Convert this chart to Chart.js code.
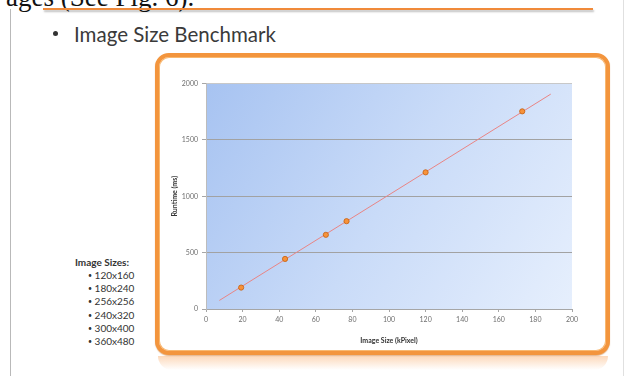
<!DOCTYPE html>
<html>
<head>
<meta charset="utf-8">
<script src="https://cdn.jsdelivr.net/npm/chart.js@4/dist/chart.umd.min.js"></script>
<style>
  html, body { margin: 0; padding: 0; background: #fff; }
  #wrap { position: relative; width: 628px; height: 376px; overflow: hidden; background: #fff; font-family: Lato, "Open Sans", sans-serif; }
  .abs { position: absolute; }
  #topText { left: 6px; top: -18px; font-family: "Liberation Serif", "DejaVu Serif", serif; font-size: 27px; color: #111; white-space: nowrap; }
  #topLine { left: 43px; top: 8px; width: 550px; height: 2px; background: #f08a3a; box-shadow: 1px 2px 2px rgba(0,0,0,0.25); }
  #leftRule { left: 10px; top: 9px; width: 1px; height: 370px; background: #b9b9b9; }
  #rightRule { left: 623px; top: 0px; width: 1px; height: 376px; background: #e0e0e0; }
  #heading { left: 74px; top: 22px; font-size: 20.5px; color: #3a3a3a; white-space: nowrap; }
  #bullet { left: 53px; top: 31px; width: 5px; height: 5px; border-radius: 50%; background: #333; }
  #frame { left: 155px; top: 53px; width: 447px; height: 294px; border: 4px solid #f3953d; border-radius: 14px; background: #fff;
           box-shadow: inset 0 0 0 1px #f8b870, 0 1px 1px rgba(200,110,30,0.5); }
  #reflect { left: 158px; top: 356px; width: 450px; height: 14px; border-radius: 0 0 14px 14px;
             background: linear-gradient(to bottom, rgba(250,185,130,0.55), rgba(255,230,210,0.0)); }
  #sizes { left: 60px; top: 255px; width: 100px; font-size: 10px; color: #333; }
  #sizes .hd { font-weight: bold; text-align: center; margin-left: -8px; width: 100px; line-height: 14px; }
  #sizes .it { margin-left: 28px; line-height: 13.2px; }
  #sizes .b { font-size: 7px; vertical-align: 1px; }
  canvas { position: absolute; left: 0; top: 0; }
</style>
</head>
<body>
<div id="wrap">
  <div class="abs" id="topText">ages (See Fig. 6).</div>
  <div class="abs" id="topLine"></div>
  <div class="abs" id="leftRule"></div>
  <div class="abs" id="rightRule"></div>
  <div class="abs" id="bullet"></div>
  <div class="abs" id="heading">Image Size Benchmark</div>
  <div class="abs" id="reflect"></div>
  <div class="abs" id="frame"></div>
  <div class="abs" id="sizes"></div>
  <canvas id="c" width="628" height="376"></canvas>
</div>
<script>
// ---- data ----
const sizeLabels = ['120x160', '180x240', '256x256', '240x320', '300x400', '360x480'];
const imageKPixel = [19.2, 43.2, 65.5, 76.8, 120, 172.8];
const runtimeMs = [190, 444, 658, 779, 1212, 1753];
const trendKPixel = [7.3, 188.4];
const trendMs = [76, 1906];
const xTicks = [0, 20, 40, 60, 80, 100, 120, 140, 160, 180, 200];
const yTicks = [0, 500, 1000, 1500, 2000];

// size list
const sizesEl = document.getElementById('sizes');
sizesEl.innerHTML = '<div class="hd">Image Sizes:</div>' + sizeLabels.map(s => '<div class="it"><span class="b">\u2022</span> ' + s + '</div>').join('');

const plotBg = {
  id: 'plotBg',
  beforeDraw(chart) {
    const {ctx, chartArea: a} = chart;
    const g = ctx.createLinearGradient(a.left, a.top, a.right, a.bottom);
    g.addColorStop(0, '#a7c3f1');
    g.addColorStop(0.5, '#c9dbf8');
    g.addColorStop(1, '#e6effd');
    ctx.save();
    ctx.fillStyle = g;
    ctx.fillRect(a.left, a.top, a.right - a.left, a.bottom - a.top);
    ctx.restore();
  }
};

const tickFont = { family: 'Lato, "Open Sans", sans-serif', size: 7 };
const titleFont = { family: 'Lato, "Open Sans", sans-serif', size: 7, weight: 'bold' };

new Chart(document.getElementById('c'), {
  type: 'scatter',
  data: {
    datasets: [
      {
        label: 'Trend',
        data: trendKPixel.map((x, i) => ({ x, y: trendMs[i] })),
        showLine: true,
        borderColor: '#e98585',
        borderWidth: 1,
        pointRadius: 0,
        order: 2
      },
      {
        label: 'Runtime',
        data: imageKPixel.map((x, i) => ({ x, y: runtimeMs[i] })),
        pointRadius: 2.6,
        pointStyle: 'circle',
        backgroundColor: '#f7923a',
        borderColor: '#c4600e',
        borderWidth: 0.8,
        order: 1
      }
    ]
  },
  options: {
    responsive: false,
    animation: false,
    devicePixelRatio: 1,
    layout: { padding: { left: 160, right: 56, top: 83.5, bottom: 31 } },
    plugins: { legend: { display: false }, tooltip: { enabled: false } },
    scales: {
      x: {
        type: 'linear', min: 0, max: 200,
        afterBuildTicks(s) { s.ticks = xTicks.map(v => ({ value: v })); },
        afterFit(s) { s.height = 36; },
        ticks: { font: tickFont, color: '#6e6e6e', padding: 4, maxRotation: 0, callback: v => String(v) },
        grid: { drawOnChartArea: false, drawTicks: true, tickLength: 3, tickColor: '#a6a6a6' },
        border: { color: '#a6a6a6' },
        title: { display: true, text: 'Image Size (kPixel)', font: titleFont, color: '#333', padding: { top: 4, bottom: 0 } }
      },
      y: {
        min: 0, max: 2000,
        afterBuildTicks(s) { s.ticks = yTicks.map(v => ({ value: v })); },
        afterFit(s) { s.width = 46; },
        ticks: { font: tickFont, color: '#6e6e6e', padding: 4, callback: v => String(v) },
        grid: { color: (c) => c.tick && c.tick.value === 2000 ? '#c8c8c8' : '#a2a2a2', tickLength: 4, tickColor: '#a6a6a6' },
        border: { color: '#bcbcbc' },
        title: { display: true, text: 'Runtime (ms)', font: titleFont, color: '#333', padding: { top: 11, bottom: 0 } }
      }
    }
  },
  plugins: [plotBg]
});
</script>
</body>
</html>
